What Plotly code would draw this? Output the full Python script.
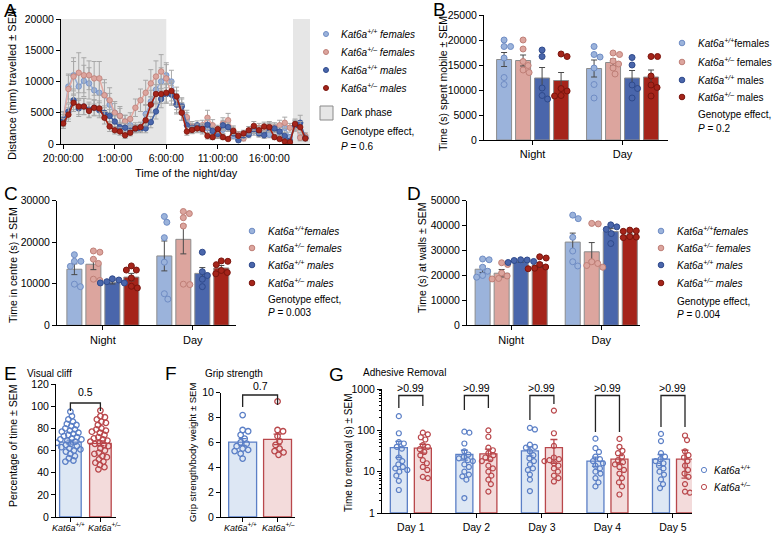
import plotly.graph_objects as go
import numpy as np

W, H = 774, 534
FONT = "Liberation Sans, Arial, sans-serif"

# ---------------- DATA ----------------
# Panel A: distance travelled per 30-min bin starting 20:00
A_TICKTEXT = ['20:00:00', '1:00:00', '6:00:00', '11:00:00', '16:00:00']
A_WT_F = [4000, 9200, 11000, 9200, 10100, 9700, 8600, 8200, 7800, 6300, 5000, 4500, 3600, 3000, 2600, 2700,
          4800, 6800, 8700, 10000, 11000, 10000,
          7000, 6200, 4000, 2300, 2700, 2200, 2500, 1800, 1400, 2300, 2800, 1300, 900, 1400, 1800, 2000, 1600,
          1900, 1500, 2400, 1800, 2600, 1100, 2800, 1100, 900]
A_WT_F_SEM = [1200, 2000, 2200, 2000, 2500, 2500, 2200, 2200, 2000, 1800, 1500, 1200, 1000, 900, 800, 800,
              1500, 1800, 2000, 2200, 2000, 1800,
              1500, 1200, 1000, 600, 600, 600, 700, 500, 500, 600, 700, 500, 400, 500, 500, 600, 500, 600, 500,
              600, 500, 700, 400, 800, 500, 400]
A_HET_F = [3800, 8800, 10800, 11400, 11000, 11000, 10500, 10500, 7800, 7000, 5000, 4500, 3600, 4000, 5800, 7000,
           8200, 9700, 10800, 11600, 10500, 8000,
           6400, 5200, 4300, 2800, 2600, 3000, 4200, 3000, 1400, 3300, 3800, 2200, 1500, 900, 1800, 2400, 2600,
           2500, 2800, 2700, 3000, 3400, 2600, 3000, 1000, 1300]
A_HET_F_SEM = [1300, 2200, 3000, 3200, 2800, 2300, 2700, 2700, 2500, 2000, 1800, 1500, 1000, 1000, 1400, 1800,
               2000, 2200, 2500, 2700, 2200, 1800,
               1600, 1400, 1100, 800, 700, 800, 1200, 900, 500, 900, 1100, 700, 500, 400, 600, 700, 700, 700, 800,
               700, 800, 900, 700, 800, 500, 500]
A_WT_M = [3800, 5200, 7000, 5700, 6000, 5500, 5800, 5400, 5000, 4500, 3600, 2700, 2600, 2100, 2400, 2400,
          2500, 3500, 5200, 7200, 8000, 7900,
          6300, 6000, 3000, 2600, 3000, 2600, 3100, 2100, 1600, 3000, 2700, 1700, 600, 1400, 1500, 2400, 1700,
          1400, 2600, 2500, 2000, 1300, 500, 3000, 3400, 1000]
A_WT_M_SEM = [900, 1200, 1500, 1300, 1300, 1200, 1300, 1200, 1100, 1000, 900, 700, 700, 600, 600, 600,
              700, 900, 1200, 1400, 1500, 1500,
              1300, 1200, 800, 700, 700, 700, 800, 600, 500, 800, 700, 500, 300, 500, 500, 600, 500, 500, 700,
              700, 600, 500, 300, 800, 1200, 400]
A_HET_M = [3300, 4700, 6600, 6000, 6000, 5300, 5800, 5700, 4200, 2800, 2200, 2000, 1400, 1800, 2500, 2700,
           3800, 6300, 8000, 8000, 8200, 8500,
           7600, 5000, 2000, 2250, 2500, 2400, 1300, 1100, 2400, 1100, 800, 2100, 1300, 1700, 2200, 2900, 2200,
           2800, 2700, 1100, 800, 400, 300, 3200, 2700, 900]
A_HET_M_SEM = [800, 1100, 1400, 1300, 1300, 1100, 1200, 1200, 1000, 800, 600, 600, 500, 500, 600, 700,
               900, 1300, 1500, 1500, 1500, 1600,
               1500, 1200, 600, 600, 700, 600, 500, 400, 600, 400, 300, 600, 400, 500, 600, 700, 600, 700, 700,
               400, 300, 200, 200, 800, 900, 400]
A_HOURS = [0.5 * i for i in range(len(A_WT_F))]   # 30-min bins from 20:00
DARK_PHASES = [(-0.22, 10.0), (22.3, 23.95)]

PHASES = ['Night', 'Day']
# Panels B, C, D: [night, day] means / SEM and individual animals
B_MEAN = {'wtf': [16100, 14300], 'hetf': [15900, 15500], 'wtm': [12400, 12400], 'hetm': [11900, 12600]}
B_SEM = {'wtf': [1400, 1700], 'hetf': [1100, 700], 'wtm': [2100, 1500], 'hetm': [1600, 1400]}
B_PTS = {'wtf': [[20000, 18700, 18700, 16400, 12500, 11100], [18700, 17100, 16600, 14400, 11100, 8400]],
         'hetf': [[20000, 18200, 15700, 14900, 14000, 13500], [17400, 17100, 15800, 15200, 14400, 13200]],
         'wtm': [[18000, 16700, 10400, 8900, 8200], [16500, 15000, 11000, 10300, 8400]],
         'hetm': [[17200, 16700, 10300, 9800, 8900, 8800], [16700, 16700, 12800, 11000, 10500, 8800]]}

C_MEAN = {'wtf': [13500, 16700], 'hetf': [14700, 20700], 'wtm': [10350, 12500], 'hetm': [11600, 13800]}
C_SEM = {'wtf': [1300, 3600], 'hetf': [1300, 3500], 'wtm': [400, 1400], 'hetm': [900, 600]}
C_PTS = {'wtf': [[17000, 15400, 15400, 14200, 9900, 9300], [26200, 24800, 21100, 15200, 7600, 6300]],
         'hetf': [[17600, 17900, 15900, 14900, 10800, 11100], [26900, 27400, 25900, 23900, 9900, 9800]],
         'wtm': [[11200, 10900, 10500, 10200, 10200], [17600, 12900, 12000, 11100, 9300]],
         'hetm': [[14300, 13300, 13300, 11400, 9400, 9000], [15500, 15400, 14600, 13200, 12400, 12700]]}

D_MEAN = {'wtf': [22500, 33400], 'hetf': [20900, 29500], 'wtm': [25700, 37600], 'hetm': [24200, 36200]}
D_SEM = {'wtf': [1300, 3600], 'hetf': [1500, 3700], 'wtm': [400, 1200], 'hetm': [1000, 800]}
D_PTS = {'wtf': [[26300, 26600, 23300, 21700, 20000, 19300], [44200, 42800, 35300, 29800, 25500, 23800]],
         'hetf': [[25100, 24400, 21000, 19800, 18800, 18600], [40900, 40700, 25500, 24800, 24000, 23300]],
         'wtm': [[26300, 26200, 26000, 25600, 25200], [40300, 39500, 38500, 36800, 32800]],
         'hetm': [[27500, 27000, 24400, 23400, 22900, 22700], [38200, 37900, 37700, 35600, 35400, 35200]]}

# Panel E: visual cliff
E_WT = [95, 91, 88, 86, 84, 83, 82, 80, 79, 78, 77, 76, 75, 74, 73, 72, 71, 70, 70, 69, 68, 67, 66, 65,
        64, 63, 62, 61, 60, 59, 57, 55, 53, 51, 50]
E_HET = [96, 91, 90, 88, 86, 85, 83, 80, 79, 78, 77, 76, 74, 72, 71, 70, 69, 68, 67, 66, 65, 64, 62, 60,
         58, 57, 55, 54, 52, 50, 49, 47, 45, 43]
E_MEAN = [67.5, 66.5]
E_SEM = [1.8, 2.2]
E_P = '0.5'

# Panel F: grip strength
F_WT = [8.2, 7.0, 6.9, 6.6, 6.3, 6.0, 5.9, 5.7, 5.5, 5.4, 5.3, 5.1, 4.7]
F_HET = [9.3, 7.0, 6.9, 6.5, 6.1, 5.8, 5.5, 5.3, 5.2, 5.0]
F_MEAN = [6.03, 6.25]
F_SEM = [0.27, 0.42]
F_P = '0.7'

# Panel G: adhesive removal (log scale)
G_DAYS = ['Day 1', 'Day 2', 'Day 3', 'Day 4', 'Day 5']
G_WT_MEAN = [37, 25, 31, 17, 19]
G_WT_SEM = [16, 7, 8, 4.5, 6]
G_HET_MEAN = [36, 26, 37, 19, 19]
G_HET_SEM = [9, 8, 22, 4.5, 13]
G_WT_PTS = [[220, 85, 52, 48, 40, 36, 22, 18, 15, 13, 12, 11, 10, 8, 6, 3.6],
            [93, 88, 48, 31, 26, 23, 21, 19, 18, 15, 13, 10, 8.5, 7.7, 6.4, 2.3],
            [115, 105, 45, 40, 38, 31, 25, 21, 18, 15, 12, 11, 8.5, 6.4, 3.4],
            [63, 37, 30, 23, 20, 18, 16, 14, 12, 10, 9, 7, 5.5, 4.4],
            [82, 55, 28, 23, 20, 18, 16, 14, 12, 10, 8.5, 6.5, 5, 4]]
G_HET_PTS = [[88, 80, 68, 60, 44, 40, 35, 30, 25, 19, 16, 13, 11, 7.5, 7],
             [100, 70, 38, 33, 28, 25, 22, 20, 18, 14, 12, 10, 8, 6.4, 5, 3.3],
             [300, 85, 42, 22, 20, 19, 18, 16, 14, 12, 10, 8, 7, 5.8],
             [62, 40, 32, 28, 23, 19, 17, 15, 13, 11, 9, 7, 5.5, 4.4, 2.8],
             [75, 58, 31, 25, 22, 18, 14, 11, 9, 7.5, 5, 3.3, 3.1]]
G_P = ['>0.99', '>0.99', '>0.99', '>0.99', '>0.99']

# ---------------- STYLE ----------------
GROUPS = ['wtf', 'hetf', 'wtm', 'hetm']
FILL = {'wtf': '#9bb3db', 'hetf': '#dca59e', 'wtm': '#4a66ab', 'hetm': '#a5241a'}
EDGE = {'wtf': '#6f8cc4', 'hetf': '#bf7f77', 'wtm': '#2f4a8c', 'hetm': '#7a150d'}
LINEC = {'wtf': '#9ab0d8', 'hetf': '#e3aaa2', 'wtm': '#4563a6', 'hetm': '#a3200f'}
BLUE_L, BLUE_F = '#5b7fc6', '#dde7f4'
RED_L, RED_F = '#b9474b', '#f3dbdb'
LEGF = 10

fig = go.Figure()
shapes, ann = [], []


def dx(l, r):
    return [l / W, r / W]


def dy(t, b):
    return [1 - b / H, 1 - t / H]


def ax(**kw):
    d = dict(showline=True, linecolor='black', linewidth=1, ticks='outside', ticklen=4, tickwidth=1,
             tickcolor='black', showgrid=False, zeroline=False, fixedrange=True, automargin=False,
             tickangle=0, tickfont=dict(size=10.5, color='black', family=FONT))
    d.update(kw)
    return d


def text(x, y, s, size=11, xanchor='left', yanchor='middle', angle=0):
    ann.append(dict(x=x / W, y=1 - y / H, xref='paper', yref='paper', text=s, showarrow=False,
                    xanchor=xanchor, yanchor=yanchor, textangle=angle,
                    font=dict(size=size, color='black', family=FONT)))


def dot(x, y, fill, edge, r=3.0):
    shapes.append(dict(type='circle', xref='paper', yref='paper', xsizemode='pixel', ysizemode='pixel',
                       xanchor=x / W, yanchor=1 - y / H, x0=-r, x1=r, y0=-r, y1=r,
                       fillcolor=fill, line=dict(color=edge, width=1)))


def swarm(values, ypx, xpx, diam, log=False):
    ys = [(np.log10(v) if log else v) * ypx for v in values]
    order = sorted(range(len(values)), key=lambda i: -ys[i])
    placed, offs = [], [0.0] * len(values)
    cands = [0.0]
    for k in range(1, 400):
        cands += [k * 0.5, -k * 0.5]
    for i in order:
        y = ys[i]
        for c in cands:
            if all((c - p) ** 2 + (y - q) ** 2 >= diam ** 2 for p, q in placed):
                break
        placed.append((c, y))
        offs[i] = c / xpx
    return offs


# ---------------- PANEL A ----------------
A_BOX = (61, 310, 19, 144)
A_XR = [-0.22, 23.95]
fig.update_layout(
    xaxis=ax(domain=dx(A_BOX[0], A_BOX[1]), range=A_XR, tickvals=[0, 5, 10, 15, 20], ticktext=A_TICKTEXT,
             anchor='y'),
    yaxis=ax(domain=dy(A_BOX[2], A_BOX[3]), range=[0, 20000], tickvals=[0, 5000, 10000, 15000, 20000],
             tickformat='d', anchor='x'))
for x0, x1 in DARK_PHASES:
    shapes.append(dict(type='rect', xref='x', yref='y', x0=x0, x1=x1, y0=0, y1=20000, fillcolor='#e6e6e6',
                       line=dict(width=0), layer='below'))
for g, vals, sem in [('wtf', A_WT_F, A_WT_F_SEM), ('hetf', A_HET_F, A_HET_F_SEM),
                     ('wtm', A_WT_M, A_WT_M_SEM), ('hetm', A_HET_M, A_HET_M_SEM)]:
    fig.add_trace(go.Scatter(x=A_HOURS, y=vals, xaxis='x', yaxis='y', mode='lines+markers',
                             line=dict(color=LINEC[g], width=1.6),
                             marker=dict(size=5.5, color=FILL[g], line=dict(color=EDGE[g], width=0.8)),
                             error_y=dict(type='data', array=sem, color='#a8a8a8', thickness=1, width=2.5)))
text(12, 84, 'Distance (mm) travelled ± SEM', xanchor='center', angle=-90)
text(186, 173, 'Time of the night/day', xanchor='center')
text(2, 10, 'A', size=19)

LEG_A = ['<i>Kat6a<sup>+/+</sup> females</i>', '<i>Kat6a<sup>+/–</sup> females</i>',
         '<i>Kat6a<sup>+/+</sup> males</i>', '<i>Kat6a<sup>+/–</sup> males</i>']
for k, (g, y) in enumerate(zip(GROUPS, [34, 52, 70, 88])):
    dot(326, y, FILL[g], EDGE[g], r=2.5)
    text(339, y, LEG_A[k], size=LEGF)
shapes.append(dict(type='rect', xref='paper', yref='paper', x0=320 / W, x1=333 / W, y0=1 - 120 / H,
                   y1=1 - 106 / H, fillcolor='#e6e6e6', line=dict(color='#8a8a8a', width=1)))
text(339, 113, 'Dark phase', size=LEGF)
text(339, 132, 'Genotype effect,', size=LEGF)
text(339, 146, '<i>P</i> = 0.6', size=LEGF)


# ---------------- PANELS B, C, D ----------------
def grouped_panel(n, box, xr, yr, ytick, means, sems, pts, ytitle, ytitle_x, ytitle_y, ytitle_size, letter,
                  letter_xy, leg_x, leg_ys, leg_txt, ptext, gen_y):
    xa, ya = 'x%d' % n, 'y%d' % n
    fig.update_layout(**{
        'xaxis%d' % n: ax(domain=dx(box[0], box[1]), range=xr, tickvals=[0, 1], ticktext=PHASES, anchor=ya,
                          tickfont=dict(size=11, color='black', family=FONT)),
        'yaxis%d' % n: ax(domain=dy(box[2], box[3]), range=yr, tickvals=ytick, tickformat='d', anchor=xa)})
    xpx = (box[1] - box[0]) / (xr[1] - xr[0])
    ypx = (box[3] - box[2]) / (yr[1] - yr[0])
    step, bw = 19 / 90, 15 / 90
    for k, g in enumerate(GROUPS):
        off = (k - 1.5) * step
        xs = [p + off for p in range(len(PHASES))]
        fig.add_trace(go.Bar(x=xs, y=means[g], width=bw, xaxis=xa, yaxis=ya,
                             marker=dict(color=FILL[g], line=dict(color='#8c8c8c', width=1)),
                             error_y=dict(type='data', array=sems[g], color='#4a4a4a', thickness=1, width=3)))
        for p in range(len(PHASES)):
            offs = swarm(pts[g][p], ypx, xpx, 6.2)
            fig.add_trace(go.Scatter(x=[xs[p] + o for o in offs], y=pts[g][p], xaxis=xa, yaxis=ya,
                                     mode='markers',
                                     marker=dict(size=6, color=FILL[g], line=dict(color=EDGE[g], width=1))))
    text(ytitle_x, ytitle_y, ytitle, size=ytitle_size, xanchor='center', angle=-90)
    text(letter_xy[0], letter_xy[1], letter, size=19)
    for k, g in enumerate(GROUPS):
        dot(leg_x, leg_ys[k], FILL[g], EDGE[g], r=2.8)
        text(leg_x + 14, leg_ys[k], leg_txt[k], size=LEGF)
    text(leg_x + 14, gen_y, 'Genotype effect,', size=LEGF)
    text(leg_x + 14, gen_y + 13, '<i>P</i> = ' + ptext, size=LEGF)


LEG_B = ['<i>Kat6a<sup>+/+</sup></i>females', '<i>Kat6a<sup>+/–</sup></i> females',
         '<i>Kat6a<sup>+/+</sup></i> males', '<i>Kat6a<sup>+/–</sup></i> males']
LEG_CD = ['<i>Kat6a<sup>+/+</sup>females</i>', '<i>Kat6a<sup>+/–</sup> females</i>',
          '<i>Kat6a<sup>+/+</sup> males</i>', '<i>Kat6a<sup>+/–</sup> males</i>']

grouped_panel(2, (484, 668, 15, 140), [-0.54, 1.505], [0, 25000], list(range(0, 25001, 5000)),
              B_MEAN, B_SEM, B_PTS, 'Time (s) spent mobile ± SEM', 443, 84, 10.5, 'B', (431, 9),
              682, [43, 62, 80, 97], LEG_B, '0.2', 115)
grouped_panel(3, (57, 236, 200.7, 325.3), [-0.51, 1.48], [0, 30000], list(range(0, 30001, 10000)),
              C_MEAN, C_SEM, C_PTS, 'Time in centre (s) ± SEM', 13, 265, 10.5, 'C', (2, 193),
              252, [231, 248, 265, 283], LEG_CD, '0.003', 299)
grouped_panel(4, (467, 640, 200.7, 325.3), [-0.49, 1.43], [0, 50000], list(range(0, 50001, 10000)),
              D_MEAN, D_SEM, D_PTS, 'Time (s) at walls ± SEM', 422, 258, 10.5, 'D', (405, 193),
              661, [231, 248, 265, 283], LEG_CD, '0.004', 301)

GENO = ['<i>Kat6a<sup>+/+</sup></i>', '<i>Kat6a<sup>+/–</sup></i>']


# ---------------- PANELS E, F ----------------
def two_bar_panel(n, box, xr, yr, ytick, wt, het, mean, sem, ptxt, ytitle, ytitle_x, ytitle_y, ytitle_size,
                  letter, letter_x, title, title_x, br_top, br_bot, p_y, bw, lab_x, diam):
    xa, ya = 'x%d' % n, 'y%d' % n
    fig.update_layout(**{
        'xaxis%d' % n: ax(domain=dx(box[0], box[1]), range=xr, tickvals=[0, 1], ticktext=['', ''], anchor=ya),
        'yaxis%d' % n: ax(domain=dy(box[2], box[3]), range=yr, tickvals=ytick, anchor=xa)})
    xpx = (box[1] - box[0]) / (xr[1] - xr[0])
    ypx = (box[3] - box[2]) / (yr[1] - yr[0])
    for i, (vals, lc, fc) in enumerate([(wt, BLUE_L, BLUE_F), (het, RED_L, RED_F)]):
        fig.add_trace(go.Bar(x=[i], y=[mean[i]], width=bw, xaxis=xa, yaxis=ya,
                             marker=dict(color=fc, line=dict(color=lc, width=1.3)),
                             error_y=dict(type='data', array=[sem[i]], color=lc, thickness=1.3, width=4)))
        offs = swarm(vals, ypx, xpx, diam)
        fig.add_trace(go.Scatter(x=[i + o for o in offs], y=vals, xaxis=xa, yaxis=ya, mode='markers',
                                 marker=dict(symbol='circle-open', size=5.5, color=lc, line=dict(width=1.3))))
        text(lab_x[i], 527, GENO[i], size=9, xanchor='center')
    shapes.append(dict(type='path', xref=xa, yref='paper', line=dict(color='#222', width=1.3),
                       path='M 0,%f L 0,%f L 1,%f L 1,%f' % (1 - br_bot[0] / H, 1 - br_top / H,
                                                             1 - br_top / H, 1 - br_bot[1] / H)))
    ann.append(dict(x=0.5, y=1 - p_y / H, xref=xa, yref='paper', text=ptxt, showarrow=False,
                    xanchor='center', yanchor='middle',
                    font=dict(size=10.5, color='black', family=FONT)))
    text(ytitle_x, ytitle_y, ytitle, size=ytitle_size, xanchor='center', angle=-90)
    text(letter_x, 373, letter, size=19)
    text(title_x, 373, title, size=10)


two_bar_panel(5, (56, 116, 384, 517), [-0.48, 1.52], [0, 120], list(range(0, 121, 20)), E_WT, E_HET,
              E_MEAN, E_SEM, E_P, 'Percentage of time ± SEM', 13, 446, 10.5, 'E', 2, 'Visual cliff', 25,
              403, (411, 411), 392, 0.72, (68, 104), 4.6)
two_bar_panel(6, (221, 295, 392.7, 517), [-0.62, 1.5], [0, 10], list(range(0, 11, 2)), F_WT, F_HET,
              F_MEAN, F_SEM, F_P, 'Grip strength/body weight ± SEM', 192, 453, 9.5, 'F', 163, 'Grip strength',
              203, 395, (407, 405), 386, 0.8, (241, 278), 5.2)

# ---------------- PANEL G ----------------
G_BOX = (382, 692, 389, 513)
G_XR = [-0.44, 4.29]
minor_vals = [m * d for d in (1, 10, 100) for m in range(2, 10)]
fig.update_layout(
    xaxis7=ax(domain=dx(G_BOX[0], G_BOX[1]), range=G_XR, tickvals=list(range(5)), ticktext=G_DAYS, anchor='y7',
              tickfont=dict(size=10.5, color='black', family=FONT)),
    yaxis7=ax(domain=dy(G_BOX[2], G_BOX[3]), type='log', range=[0, 3], tickvals=[1, 10, 100, 1000],
              ticktext=['1', '10', '100', '1000'], anchor='x7',
              minor=dict(tickvals=minor_vals, ticks='outside', ticklen=2.5, tickcolor='black', tickwidth=1)))
gxpx = (G_BOX[1] - G_BOX[0]) / (G_XR[1] - G_XR[0])
gypx = (G_BOX[3] - G_BOX[2]) / 3.0
G_OFF, G_BW = 12 / 65.5, 17 / 65.5
for sgn, means, sems, pts, lc, fc in [(-1, G_WT_MEAN, G_WT_SEM, G_WT_PTS, BLUE_L, BLUE_F),
                                      (1, G_HET_MEAN, G_HET_SEM, G_HET_PTS, RED_L, RED_F)]:
    xs = [d + sgn * G_OFF for d in range(len(G_DAYS))]
    fig.add_trace(go.Bar(x=xs, y=means, width=G_BW, xaxis='x7', yaxis='y7', base=1,
                         marker=dict(color=fc, line=dict(color=lc, width=1.3)),
                         error_y=dict(type='data', array=sems, color=lc, thickness=1.3, width=3.5)))
    for d in range(len(G_DAYS)):
        offs = swarm(pts[d], gypx, gxpx, 5.0, log=True)
        fig.add_trace(go.Scatter(x=[xs[d] + o for o in offs], y=pts[d], xaxis='x7', yaxis='y7', mode='markers',
                                 marker=dict(symbol='circle-open', size=5, color=lc, line=dict(width=1.2))))
G_BR_BOT = [(408, 406), (410, 408), (420, 404), (432, 432), (427, 427)]
for d in range(len(G_DAYS)):
    l, r = d - G_OFF, d + G_OFF
    shapes.append(dict(type='path', xref='x7', yref='paper', line=dict(color='#222', width=1.3),
                       path='M %f,%f L %f,%f L %f,%f L %f,%f' % (
                           l, 1 - G_BR_BOT[d][0] / H, l, 1 - 395.5 / H, r, 1 - 395.5 / H, r, 1 - G_BR_BOT[d][1] / H)))
    ann.append(dict(x=d, y=1 - 387.5 / H, xref='x7', yref='paper', text=G_P[d], showarrow=False,
                    xanchor='center', yanchor='middle',
                    font=dict(size=10.5, color='black', family=FONT)))
text(348, 453, 'Time to removal (s) ± SEM', size=10, xanchor='center', angle=-90)
text(327, 374, 'G', size=19)
text(361, 372, 'Adhesive Removal', size=10)
for (y, lc, fc, lab) in [(470, BLUE_L, 'white', GENO[0]), (487, RED_L, 'white', GENO[1])]:
    dot(704, y, fc, lc, r=2.6)
    text(712, y, lab, size=LEGF)

fig.update_layout(width=W, height=H, margin=dict(l=0, r=0, t=0, b=0), showlegend=False,
                  plot_bgcolor='white', paper_bgcolor='white', barmode='overlay',
                  font=dict(family=FONT, size=11, color='black'),
                  shapes=shapes, annotations=ann)
fig.write_html("out.html")
